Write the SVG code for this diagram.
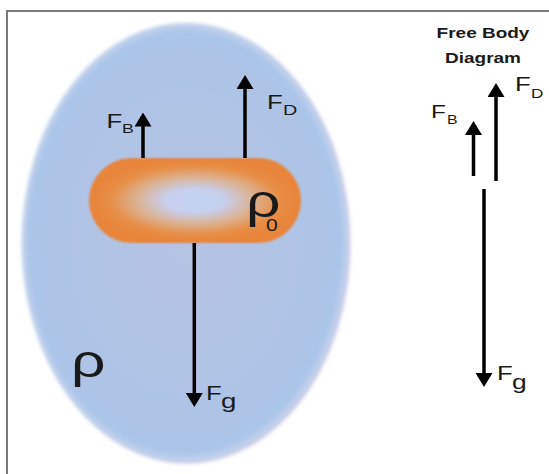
<svg xmlns="http://www.w3.org/2000/svg" width="549" height="474" viewBox="0 0 549 474">
<style>
.lbl{font-family:"Liberation Sans",Arial,sans-serif;fill:#1a1a1a}
.ttl{font-family:"Liberation Sans",Arial,sans-serif;font-weight:bold;font-size:14.6px;fill:#1a1a1a}
.arr{stroke:#000;stroke-width:3.5;fill:none;marker-end:url(#head)}
</style>
<defs>
<marker id="head" viewBox="0 0 14 17" refX="2" refY="8.5" markerWidth="14" markerHeight="17" markerUnits="userSpaceOnUse" orient="auto">
<path d="M0,0 L14,8.5 L0,17 z" fill="#000"/>
</marker>
<radialGradient id="fluidG" cx="0.5" cy="0.5" r="0.5">
<stop offset="0" stop-color="#b6c3e4"/>
<stop offset="0.85" stop-color="#adc4e6"/>
<stop offset="0.96" stop-color="#aac5e8"/>
<stop offset="1" stop-color="#c4d6ef"/>
</radialGradient>
<radialGradient id="bodyG" cx="0.5" cy="0.5" r="0.5">
<stop offset="0" stop-color="#c2d2f6"/>
<stop offset="0.28" stop-color="#c7cfee"/>
<stop offset="0.55" stop-color="#dcb293"/>
<stop offset="0.8" stop-color="#e78e46"/>
<stop offset="1" stop-color="#e9843a"/>
</radialGradient>
<filter id="soft" x="-10%" y="-10%" width="120%" height="120%">
<feGaussianBlur stdDeviation="2"/>
</filter>
<filter id="soft1" x="-10%" y="-10%" width="120%" height="120%">
<feGaussianBlur stdDeviation="1"/>
</filter>
</defs>
<rect width="549" height="474" fill="#fff"/>
<path d="M7,474 V11 H549" fill="none" stroke="#7a7a7a" stroke-width="2"/>

<g id="fluid">
<ellipse cx="187" cy="244" rx="163" ry="219" fill="#cbc5e4" filter="url(#soft)"/>
<ellipse cx="185" cy="242.5" rx="163" ry="219" fill="url(#fluidG)" filter="url(#soft)"/>
<text class="lbl" font-size="46" transform="translate(71,377) scale(1.32,1)">ρ</text>
</g>

<g id="body">
<rect x="89" y="158" width="212" height="85" rx="42.5" fill="url(#bodyG)" filter="url(#soft1)"/>
<text class="lbl" font-size="46" transform="translate(246,217) scale(1.32,1)">ρ</text>
<text class="lbl" font-size="16" transform="translate(266,231) scale(1.32,1)">0</text>
</g>

<g id="connectors">
<line class="arr" x1="143" y1="158" x2="143" y2="124.5"/>
<line class="arr" x1="245" y1="158" x2="245" y2="87"/>
<line class="arr" x1="194.3" y1="243" x2="194.3" y2="395"/>
<line class="arr" x1="473.5" y1="176" x2="473.5" y2="133"/>
<line class="arr" x1="496" y1="181" x2="496" y2="95"/>
<line class="arr" x1="484" y1="189" x2="484" y2="375"/>
</g>

<g id="label-FB">
<text class="lbl" font-size="19.5" transform="translate(106.5,128) scale(1.32,1)">F</text>
<text class="lbl" font-size="13.5" transform="translate(122,133) scale(1.32,1)">B</text>
</g>
<g id="label-FD">
<text class="lbl" font-size="19.5" transform="translate(267,108.5) scale(1.32,1)">F</text>
<text class="lbl" font-size="15" transform="translate(283,115) scale(1.32,1)">D</text>
</g>
<g id="label-Fg">
<text class="lbl" font-size="19.5" transform="translate(206,400) scale(1.32,1)">F</text>
<text class="lbl" font-size="21" transform="translate(221,408) scale(1.32,1)">g</text>
</g>

<g id="fbd-title">
<text class="ttl" text-anchor="middle" transform="translate(483,38) scale(1.3,1)">Free Body</text>
<text class="ttl" text-anchor="middle" transform="translate(483,63) scale(1.3,1)">Diagram</text>
</g>
<g id="fbd-label-FB">
<text class="lbl" font-size="18.5" transform="translate(431,118) scale(1.32,1)">F</text>
<text class="lbl" font-size="12" transform="translate(447,123.5) scale(1.32,1)">B</text>
</g>
<g id="fbd-label-FD">
<text class="lbl" font-size="19.5" transform="translate(515,91) scale(1.32,1)">F</text>
<text class="lbl" font-size="13" transform="translate(531,97.5) scale(1.32,1)">D</text>
</g>
<g id="fbd-label-Fg">
<text class="lbl" font-size="19.5" transform="translate(497,380) scale(1.32,1)">F</text>
<text class="lbl" font-size="20" transform="translate(512,389) scale(1.32,1)">g</text>
</g>
</svg>
